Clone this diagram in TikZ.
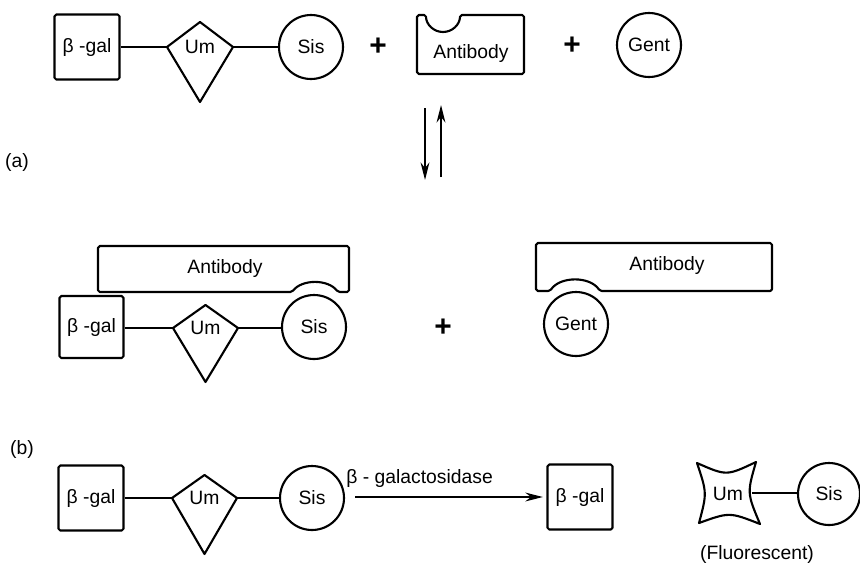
\documentclass[tikz,border=0pt]{standalone}
\usepackage{fontspec}
\setmainfont{Liberation Sans}
\usetikzlibrary{arrows.meta}

% kite shaped Um label: name, x, y, half width, top, bottom
\newcommand{\umkite}[6]{%
	\node [lbl] (#1) at (#2,#3) {Um};
	\begin{scope}[shift={(#2,#3)}]
		\draw [bond] (-#4,0) coordinate (#1-w) -- (0,#5) -- (#4,0) coordinate (#1-e) -- (0,-#6) -- cycle;
	\end{scope}
}

\begin{document}
\begin{tikzpicture}[x=0.2mm, y=0.2mm]
			\tikzstyle{every node}=[font=\fontsize{11}{13}\selectfont, inner sep=0pt];
			\tikzstyle{bond}=[line width=1.2pt, line join=round];
			\tikzstyle{lbl}=[];
			\tikzstyle{galbox}=[draw, bond, shape=rectangle, rounded corners=1pt, minimum width=13mm, minimum height=13mm];
			\tikzstyle{sugar}=[draw, bond, shape=circle, minimum size=12.8mm];
			\tikzstyle{plus}=[font=\bfseries\fontsize{17}{17}\selectfont];
			\tikzstyle{rxn}=[bond, -{Stealth[length=10pt, width=5pt]}];
			\useasboundingbox (0,0) rectangle (860,-562);

			% (a) free conjugate, antibody and gentamicin
			\node [galbox] (gal1) at (87,-47) {β -gal};
			\umkite{um1}{200}{-47}{33}{25}{55}
			\node [sugar] (sis1) at (311,-47) {Sis};
			\node [plus] (p1) at (378,-47) {+};
			\draw [bond, rounded corners=1pt] (417,-15) -- (426,-15) arc[start angle=180, end angle=360, radius=17] -- (524,-15) -- (524,-74) -- (417,-74) -- cycle;
			\node [lbl] (ab1) at (471,-53) {Antibody};
			\node [plus] (p2) at (572,-46) {+};
			\node [sugar] (gent1) at (649,-45) {Gent};
			\draw [bond] (gal1.east) -- (um1-w);
			\draw [bond] (um1-e) -- (sis1.west);

			\node (la) at (17,-162) {(a)};
			\coordinate (eq1) at (425,-108);
			\coordinate (eq2) at (425,-180);
			\coordinate (eq3) at (441,-177);
			\coordinate (eq4) at (441,-105);
			\draw [rxn] (eq1) -- (eq2);
			\draw [rxn] (eq3) -- (eq4);

			% (a) bound complexes
			\draw [bond, rounded corners=1pt] (98,-246) -- (349,-246) -- (349,-292) -- (338,-292) .. controls (328,-279) and (302,-279) .. (292,-292) -- (98,-292) -- cycle;
			\node [lbl] (ab2) at (225,-268) {Antibody};
			\node [galbox, minimum width=12.8mm, minimum height=12.4mm] (gal2) at (91.5,-327) {β -gal};
			\umkite{um2}{205.5}{-328}{32.5}{23}{54}
			\node [sugar] (sis2) at (314,-327) {Sis};
			\draw [bond] (gal2.east |- um2-w) -- (um2-w);
			\draw [bond] (um2-e) -- (sis2.west |- um2-e);
			\node [plus] (p3) at (443,-328) {+};
			\draw [bond, rounded corners=1pt] (536,-243) -- (772,-243) -- (772,-291) -- (600,-291) .. controls (590,-276) and (560,-276) .. (550,-291) -- (536,-291) -- cycle;
			\node [lbl] (ab3) at (667,-265) {Antibody};
			\node [sugar] (gent2) at (576,-324) {Gent};

			% (b) enzyme hydrolysis
			\node (lb) at (22,-449) {(b)};
			\node [galbox] (gal3) at (91,-498) {β -gal};
			\umkite{um3}{204.5}{-498}{32.5}{23}{56}
			\node [sugar] (sis3) at (312,-498) {Sis};
			\draw [bond] (gal3.east) -- (um3-w);
			\draw [bond] (um3-e) -- (sis3.west);
			\node [galbox] (gal4) at (580,-497) {β -gal};
			\draw [rxn, shorten <=10pt*0.57, shorten >=2pt] (sis3.east |- gal4) -- node [pos=0.37, above=5pt] {β - galactosidase} (gal4.west);

			\node [lbl] (um4) at (728,-494) {Um};
			\begin{scope}[shift={(728,-494)}]
				\draw [bond] (-31,31) .. controls (-1.5,18) .. (28,32) .. controls (19,1) .. (32,-30) .. controls (1.5,-18) .. (-29,-29) .. controls (-21,1) .. cycle;
				\coordinate (um4-e) at (24,1);
			\end{scope}
			\node [sugar, minimum size=12.4mm] (sis4) at (829,-494) {Sis};
			\draw [bond] (um4-e) -- (sis4.west |- um4-e);
			\node [lbl] (fl) at (757,-554) {(Fluorescent)};
\end{tikzpicture}
\end{document}
